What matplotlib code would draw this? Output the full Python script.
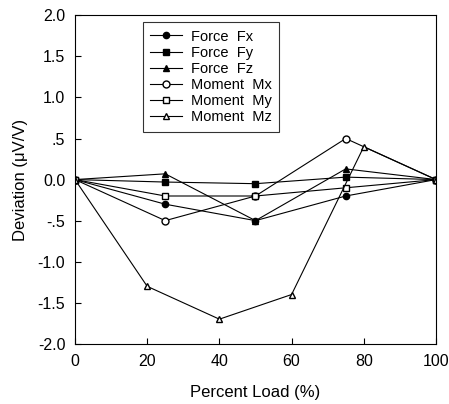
import numpy as np
import matplotlib.pyplot as plt

plt.rcParams['font.family'] = ['Liberation Sans', 'DejaVu Sans']

# donnees
x_load = [0, 25, 50, 75, 100]
x_mz = [0, 20, 40, 60, 80, 100]

force_fx = [0, -0.3, -0.5, -0.2, 0]
force_fy = [0, -0.03, -0.05, 0.03, 0]
force_fz = [0, 0.07, -0.5, 0.13, 0]
moment_mx = [0, -0.5, -0.2, 0.5, 0]
moment_my = [0, -0.2, -0.2, -0.1, 0]
moment_mz = [0, -1.3, -1.7, -1.4, 0.4, 0]

y_ticks = [2.0, 1.5, 1.0, 0.5, 0.0, -0.5, -1.0, -1.5, -2.0]
y_labels = ['2.0', '1.5', '1.0', '.5', '0.0', '-.5', '-1.0', '-1.5', '-2.0']

fig = plt.figure(figsize=(4.49, 4.04), dpi=100)
ax = fig.add_axes([0.167, 0.149, 0.804, 0.813])

lw = 0.8
ms = 4.5
ax.plot(x_load, force_fx, '-o', color='black', lw=lw, ms=ms, label='Force  Fx')
ax.plot(x_load, force_fy, '-s', color='black', lw=lw, ms=ms, label='Force  Fy')
ax.plot(x_load, force_fz, '-^', color='black', lw=lw, ms=ms, label='Force  Fz')
ax.plot(x_load, moment_mx, '-o', color='black', mfc='white', lw=lw, ms=ms + 0.5, label='Moment  Mx')
ax.plot(x_load, moment_my, '-s', color='black', mfc='white', lw=lw, ms=ms, label='Moment  My')
ax.plot(x_mz, moment_mz, '-^', color='black', mfc='white', lw=lw, ms=ms, label='Moment  Mz')

ax.set_xlim(0, 100)
ax.set_ylim(-2.0, 2.0)
ax.set_xticks([0, 20, 40, 60, 80, 100])
ax.set_yticks(y_ticks)
ax.set_yticklabels(y_labels)
ax.tick_params(direction='in', length=4, width=0.8, labelsize=11.5, pad=7, top=False, right=False)
for s in ax.spines.values():
    s.set_linewidth(0.8)

ax.set_xlabel('Percent Load (%)', fontsize=12, labelpad=12)
ax.set_ylabel('Deviation (\u03bcV/V)', fontsize=12, labelpad=7)

leg = ax.legend(loc='upper left', bbox_to_anchor=(0.188, 0.979), borderaxespad=0, fontsize=10.5,
                frameon=True, fancybox=False, edgecolor='black', handlelength=2.2,
                labelspacing=0.15, borderpad=0.5, handletextpad=0.6)
leg.get_frame().set_linewidth(0.8)

fig.savefig('out.png', dpi=100)
